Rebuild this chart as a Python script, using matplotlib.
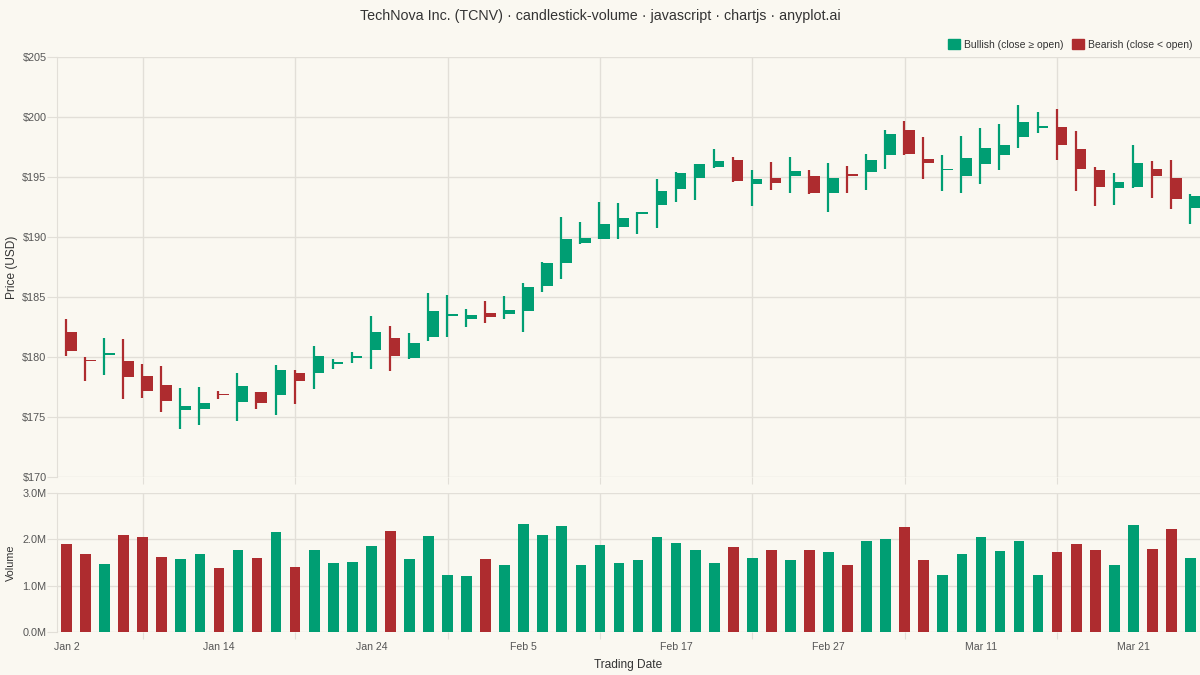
import numpy as np
import pandas as pd
import matplotlib
matplotlib.use("Agg")
import matplotlib.pyplot as plt

# daily OHLC, TechNova Inc. (TCNV)
opens = [182.1, 179.75, 180.2, 179.7, 178.4, 177.7, 175.6, 175.65, 176.95, 176.25,
         177.05, 176.85, 178.65, 178.65, 179.4, 179.9, 180.6, 181.55, 179.95, 181.65,
         183.45, 183.2, 183.7, 183.6, 183.8, 185.9, 187.8, 189.5, 189.85, 190.8,
         191.95, 192.65, 194.0, 194.9, 195.85, 196.4, 194.45, 194.9, 195.05, 195.1,
         193.65, 195.25, 195.45, 196.8, 198.9, 196.5, 195.55, 195.1, 196.1, 196.8,
         198.3, 199.1, 199.15, 197.3, 195.6, 194.05, 194.15, 195.7, 194.95, 192.45]
highs = [183.2, 180.0, 181.6, 181.5, 179.4, 179.25, 177.45, 177.5, 177.15, 178.65,
         177.1, 179.3, 178.9, 180.9, 179.85, 180.45, 183.45, 182.55, 182.0, 185.3,
         185.15, 184.0, 184.65, 185.1, 186.2, 187.9, 191.7, 191.25, 192.95, 192.8,
         192.1, 194.85, 195.4, 196.1, 197.35, 196.7, 195.6, 196.25, 196.7, 195.55,
         196.2, 195.95, 196.9, 198.9, 199.7, 198.35, 196.8, 198.4, 199.1, 199.45,
         201.0, 200.4, 200.65, 198.85, 195.8, 195.3, 197.65, 196.35, 196.45, 193.6]
lows = [180.05, 178.0, 178.5, 176.5, 176.6, 175.45, 174.0, 174.3, 176.5, 174.7,
        175.7, 175.15, 176.1, 177.3, 179.0, 179.5, 179.0, 178.85, 179.85, 181.35,
        181.7, 182.5, 182.8, 183.15, 182.1, 185.4, 186.5, 189.4, 189.8, 189.85,
        190.25, 190.75, 192.95, 193.1, 195.75, 194.55, 192.55, 193.95, 193.65, 193.55,
        192.05, 193.65, 193.95, 195.7, 196.8, 194.85, 193.8, 193.65, 194.45, 195.6,
        197.45, 198.65, 196.4, 193.85, 192.55, 192.7, 194.05, 193.25, 192.35, 191.05]
closes = [180.5, 179.65, 180.35, 178.3, 177.2, 176.35, 175.9, 176.15, 176.85, 177.55,
          176.2, 178.9, 178.0, 180.05, 179.6, 180.05, 182.1, 180.05, 181.15, 183.8,
          183.55, 183.5, 183.3, 183.95, 185.8, 187.85, 189.85, 189.95, 191.1, 191.55,
          192.05, 193.8, 195.35, 196.1, 196.3, 194.7, 194.8, 194.5, 195.5, 193.7,
          194.95, 195.05, 196.4, 198.6, 196.95, 196.15, 195.7, 196.6, 197.45, 197.7,
          199.55, 199.25, 197.7, 195.7, 194.15, 194.6, 196.2, 195.05, 193.2, 193.4]
# volume in millions of shares
volumes = [1.89, 1.685, 1.475, 2.09, 2.06, 1.61, 1.58, 1.68, 1.38, 1.77,
           1.59, 2.16, 1.395, 1.78, 1.50, 1.52, 1.85, 2.17, 1.57, 2.08,
           1.24, 1.20, 1.58, 1.44, 2.335, 2.09, 2.285, 1.44, 1.87, 1.50,
           1.56, 2.05, 1.92, 1.77, 1.48, 1.84, 1.605, 1.77, 1.555, 1.78,
           1.73, 1.45, 1.96, 2.00, 2.26, 1.56, 1.22, 1.69, 2.05, 1.74,
           1.97, 1.23, 1.73, 1.89, 1.77, 1.45, 2.32, 1.79, 2.23, 1.59]

dates = pd.bdate_range("2025-01-02", periods=len(opens))
date_labels = [f"{d:%b} {d.day}" for d in dates]
price_ticks = [170, 175, 180, 185, 190, 195, 200, 205]
volume_ticks = [0, 1, 2, 3]

BG = "#FAF8F1"
GREEN = "#009E73"
RED = "#AE2C2F"
GRID = "#E2DFD8"
TICK_TEXT = "#555555"
LABEL_TEXT = "#333333"

plt.rcParams["font.family"] = ["Liberation Sans", "DejaVu Sans"]

fig = plt.figure(figsize=(12, 6.75), dpi=100, facecolor=BG)
ax = fig.add_axes([57 / 1200, 1 - 477 / 675, 1143 / 1200, 420 / 675], facecolor=BG)
axv = fig.add_axes([57 / 1200, 1 - 632 / 675, 1143 / 1200, 139 / 675], facecolor=BG)

x = np.arange(len(opens))
o = np.array(opens)
c = np.array(closes)
up = c >= o
colors = [GREEN if u else RED for u in up]

# wicks, then bodies sitting just right of the wick
ax.vlines(x - 0.03, lows, highs, colors=colors, linewidth=1.6, zorder=3)
ax.bar(x - 0.07, np.maximum(np.abs(c - o), 0.08), bottom=np.minimum(o, c),
       width=0.6, align="edge", color=colors, zorder=3)

axv.bar(x, volumes, width=0.56, color=colors, zorder=3)

grid_pos = np.arange(4, len(opens), 8)
label_pos = np.arange(0, len(opens), 8)

for a in (ax, axv):
    a.set_xlim(-0.5, len(opens) - 0.5)
    for s in ("top", "right", "bottom"):
        a.spines[s].set_visible(False)
    a.spines["left"].set_color(GRID)
    a.set_xticks(grid_pos)
    a.grid(True, color=GRID, linewidth=1, zorder=0)
    a.tick_params(axis="x", which="major", length=5, color=GRID, labelbottom=False)
    a.tick_params(axis="y", length=7, color=GRID, labelcolor=TICK_TEXT,
                  labelsize=7.8, pad=0.5)

ax.set_ylim(170, 205)
ax.set_yticks(price_ticks)
ax.set_yticklabels([f"${p}" for p in price_ticks])
ax.set_ylabel("Price (USD)", fontsize=8.6, color=LABEL_TEXT)

axv.set_ylim(0, 3)
axv.set_yticks(volume_ticks)
axv.set_yticklabels([f"{v:.1f}M" for v in volume_ticks])
axv.set_xticks(label_pos, minor=True)
axv.set_xticklabels([date_labels[i] for i in label_pos], minor=True)
axv.tick_params(axis="x", which="minor", length=0, labelsize=7.6,
                labelcolor=TICK_TEXT, pad=7)
axv.set_ylabel("Volume", fontsize=7.8, color=LABEL_TEXT)
axv.set_xlabel("Trading Date", fontsize=8.6, color=LABEL_TEXT, labelpad=5)

ax.yaxis.set_label_coords(-0.0345, 0.5)
axv.yaxis.set_label_coords(-0.036, 0.5)

fig.text(0.5, 1 - 16 / 675, "TechNova Inc. (TCNV) · candlestick-volume · javascript · chartjs · anyplot.ai",
         ha="center", va="center", fontsize=10.3, color=LABEL_TEXT)

# legend in the top right, drawn like the chart.js boxes
handles = [plt.Rectangle((0, 0), 1, 1, color=GREEN), plt.Rectangle((0, 0), 1, 1, color=RED)]
fig.legend(handles, ["Bullish (close ≥ open)", "Bearish (close < open)"],
           loc="upper right", bbox_to_anchor=(1.0, 1 - 32 / 675), ncol=2, frameon=False,
           fontsize=7.5, handlelength=1.1, handleheight=1.1, handletextpad=0.45,
           columnspacing=0.8, borderaxespad=0.3, labelcolor=LABEL_TEXT)

fig.savefig("out.png", dpi=100, facecolor=BG)
